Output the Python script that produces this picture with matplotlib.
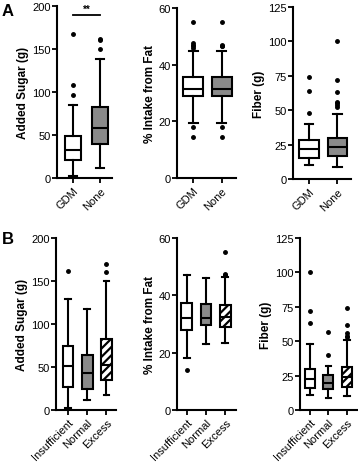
import matplotlib
matplotlib.use("Agg")
import matplotlib.pyplot as plt

plt.rcParams['font.family'] = ['Liberation Sans', 'DejaVu Sans']
plt.rcParams['hatch.linewidth'] = 1.6

# ---- data (box statistics) ----
# order of each stat list: whisker low, Q1, median, Q3, whisker high
groups_A = ["GDM", "None"]
groups_B = ["Insufficient", "Normal", "Excess"]

sugar_A = [[2, 21, 32, 49, 85], [12, 40, 58, 82, 138]]
sugar_A_out = [[96, 108, 168], [150, 160, 162]]
fat_A = [[19.5, 29, 31.5, 35.5, 45], [19.5, 29, 31.5, 35.5, 45]]
fat_A_out = [[14.5, 18, 46, 46.5, 47, 47.5, 55], [14.5, 18, 46.5, 46.5, 47, 55]]
fiber_A = [[10, 15.5, 22, 28, 40], [9, 17, 23, 30, 47]]
fiber_A_out = [[48, 64, 74], [52, 54, 55, 56, 63, 72, 100]]

sugar_B = [[2, 27, 51, 74, 129], [12, 25, 43, 64, 117], [17, 35, 52, 82, 150]]
sugar_B_out = [[162], [], [160, 170]]
fat_B = [[18, 28, 32, 37.5, 47], [23, 29.5, 32, 37, 46], [23.5, 29, 32.5, 36.5, 46.5]]
fat_B_out = [[14], [], [47, 47, 47.5, 55]]
fiber_B = [[11, 16, 22.5, 29.5, 48], [9, 15, 19.5, 25.5, 32], [10, 17, 24, 31.5, 51]]
fiber_B_out = [[63, 72, 100], [40, 57], [53, 54, 56, 62, 74]]

ylabels = ["Added Sugar (g)", "% Intake from Fat", "Fiber (g)"]
yticks = [[0, 50, 100, 150, 200], [0, 20, 40, 60], [0, 25, 50, 75, 100, 125]]

fills_A = [dict(fc="white", hatch=None), dict(fc="#8a8a8a", hatch=None)]
fills_B = [dict(fc="white", hatch=None), dict(fc="#8a8a8a", hatch=None),
           dict(fc="white", hatch="////")]

fig = plt.figure(figsize=(3.58, 4.64), dpi=100)
W, H = 358.0, 464.0

def make_ax(l, r, t, b):
    return fig.add_axes([l / W, 1 - b / H, (r - l) / W, (b - t) / H])

def draw(ax, names, stats, outs, fills, ylabel, ticks, xlim, width, capw):
    bx = []
    for n, s, o in zip(names, stats, outs):
        bx.append(dict(label=n, whislo=s[0], q1=s[1], med=s[2], q3=s[3], whishi=s[4], fliers=o))
    pos = list(range(1, len(names) + 1))
    lw = 1.5
    res = ax.bxp(bx, positions=pos, widths=width, patch_artist=True, showfliers=True,
                 boxprops=dict(lw=lw, ec="black"),
                 medianprops=dict(color="black", lw=lw),
                 whiskerprops=dict(color="black", lw=lw),
                 capprops=dict(color="black", lw=lw),
                 flierprops=dict(marker="o", ms=2.5, mfc="black", mec="black", ls="none"),
                 capwidths=capw, manage_ticks=False)
    for box, f in zip(res["boxes"], fills):
        box.set_facecolor(f["fc"])
        if f["hatch"]:
            box.set_hatch(f["hatch"])
    ax.set_xlim(*xlim)
    ax.set_ylim(0, ticks[-1])
    ax.set_yticks(ticks)
    ax.set_xticks(pos)
    ax.set_xticklabels(names, rotation=45, ha="right", rotation_mode="anchor", fontsize=8)
    ax.tick_params(axis="y", labelsize=8, length=3.5, width=1.3, pad=1)
    ax.tick_params(axis="x", length=3.5, width=1.3, pad=1.5)
    ax.set_ylabel(ylabel, fontsize=8.5, fontweight="bold", labelpad=2)
    for s in ["top", "right"]:
        ax.spines[s].set_visible(False)
    for s in ["left", "bottom"]:
        ax.spines[s].set_linewidth(1.5)

# Row A
a1 = make_ax(57, 112, 7, 179)
draw(a1, groups_A, sugar_A, sugar_A_out, fills_A, ylabels[0], yticks[0], (0.41, 2.44), 0.6, 0.3)
a1.plot([1, 2], [190, 190], color="black", lw=1.3, clip_on=False)
a1.text(1.5, 191, "**", ha="center", va="bottom", fontsize=7, fontweight="bold")

a2 = make_ax(177, 236, 9, 179)
draw(a2, groups_A, fat_A, fat_A_out, fills_A, ylabels[1], yticks[1], (0.43, 2.5), 0.7, 0.3)

a3 = make_ax(293, 351, 8, 180)
draw(a3, groups_A, fiber_A, fiber_A_out, fills_A, ylabels[2], yticks[2], (0.43, 2.48), 0.7, 0.3)

# Row B
b1 = make_ax(56, 116, 239, 411)
draw(b1, groups_B, sugar_B, sugar_B_out, fills_B, ylabels[0], yticks[0], (0.37, 3.5), 0.55, 0.3)

b2 = make_ax(177, 236, 239, 411)
draw(b2, groups_B, fat_B, fat_B_out, fills_B, ylabels[1], yticks[1], (0.5, 3.55), 0.55, 0.3)

b3 = make_ax(300, 357, 239, 411)
draw(b3, groups_B, fiber_B, fiber_B_out, fills_B, ylabels[2], yticks[2], (0.46, 3.55), 0.55, 0.3)

fig.text(2 / W, 1 - 12 / H, "A", fontsize=12, fontweight="bold", va="center", ha="left")
fig.text(2 / W, 1 - 240 / H, "B", fontsize=12, fontweight="bold", va="center", ha="left")

fig.savefig("out.png", dpi=100)
